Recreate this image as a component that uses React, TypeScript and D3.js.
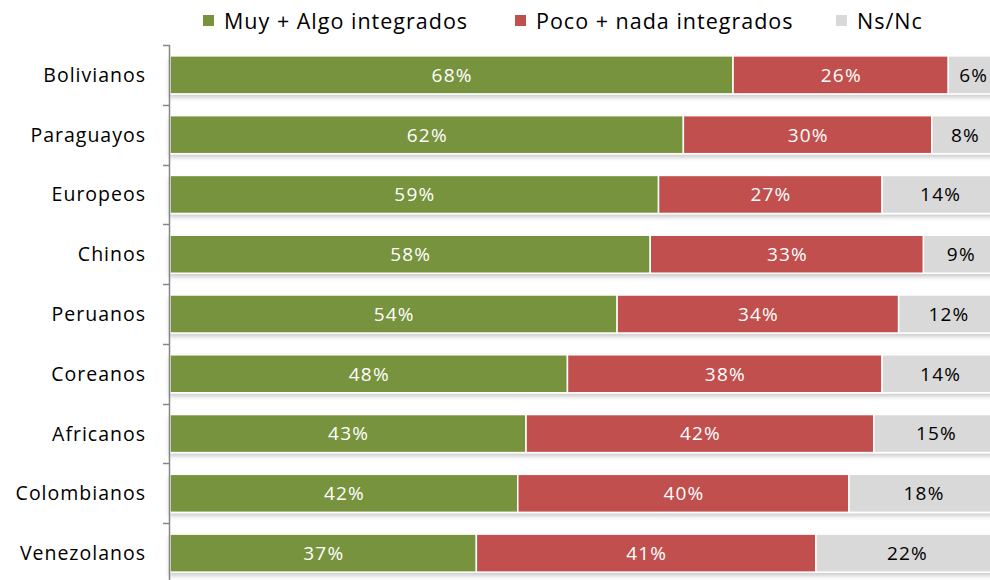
import React, { useEffect, useRef } from "react";
import * as d3 from "d3";

const categories = [
  "Bolivianos",
  "Paraguayos",
  "Europeos",
  "Chinos",
  "Peruanos",
  "Coreanos",
  "Africanos",
  "Colombianos",
  "Venezolanos",
];
const integrados = [68, 62, 59, 58, 54, 48, 43, 42, 37];
const noIntegrados = [26, 30, 27, 33, 34, 38, 42, 40, 41];
const nsnc = [6, 8, 14, 9, 12, 14, 15, 18, 22];

const seriesNames = ["Muy + Algo integrados", "Poco + nada integrados", "Ns/Nc"];
const colors = ["#77933C", "#C0504D", "#D9D9D9"];
const textColors = ["#ffffff", "#ffffff", "#000000"];

function App() {
  const ref = useRef<SVGSVGElement>(null);

  useEffect(() => {
    const svg = d3.select(ref.current);
    svg.selectAll("*").remove();

    const font = "'Open Sans', sans-serif";
    const rows = categories.map((c, i) => ({
      cat: c,
      vals: [integrados[i], noIntegrados[i], nsnc[i]],
    }));

    const x = d3.scaleLinear().domain([0, 100]).range([170, 998]);
    const y = d3
      .scaleBand()
      .domain(categories)
      .range([45, 583])
      .paddingInner(0.364)
      .paddingOuter(0.182);

    // soft shadow under the bars
    const defs = svg.append("defs");
    const f = defs
      .append("filter")
      .attr("id", "shadow")
      .attr("x", "-5%")
      .attr("y", "-20%")
      .attr("width", "110%")
      .attr("height", "160%");
    f.append("feDropShadow")
      .attr("dx", 0)
      .attr("dy", 3)
      .attr("stdDeviation", 2)
      .attr("flood-color", "#000")
      .attr("flood-opacity", 0.2);

    const g = svg.append("g");

    rows.forEach((r) => {
      let acc = 0;
      const row = g.append("g").attr("filter", "url(#shadow)");
      const tg = g.append("g");
      r.vals.forEach((v, k) => {
        const x0 = x(acc);
        const x1 = x(acc + v);
        row
          .append("rect")
          .attr("x", x0)
          .attr("y", y(r.cat)!)
          .attr("width", x1 - x0)
          .attr("height", y.bandwidth())
          .attr("fill", colors[k])
          .attr("stroke", "#fff")
          .attr("stroke-width", 1.5);
        tg.append("text")
          .attr("x", (x0 + x1) / 2 + 0.6)
          .attr("y", y(r.cat)! + y.bandwidth() / 2)
          .attr("dy", "0.36em")
          .attr("text-anchor", "middle")
          .attr("font-family", font)
          .attr("font-size", 19)
          .attr("letter-spacing", 1.2)
          .attr("fill", textColors[k])
          .text(v + "%");
        acc += v;
      });
    });

    // category axis
    const step = y.step();
    const ax = svg.append("g");
    ax.append("line")
      .attr("x1", 169.5)
      .attr("x2", 169.5)
      .attr("y1", 45)
      .attr("y2", 583)
      .attr("stroke", "#868686")
      .attr("stroke-width", 1.5);
    d3.range(categories.length + 1).forEach((i) => {
      const ty = Math.round(45 + i * step) + 0.5;
      ax.append("line")
        .attr("x1", 163)
        .attr("x2", 170)
        .attr("y1", ty)
        .attr("y2", ty)
        .attr("stroke", "#868686")
        .attr("stroke-width", 1.5);
    });
    ax.selectAll("text.cat")
      .data(categories)
      .enter()
      .append("text")
      .attr("class", "cat")
      .attr("x", 146)
      .attr("y", (d) => y(d)! + y.bandwidth() / 2)
      .attr("dy", "0.36em")
      .attr("text-anchor", "end")
      .attr("font-family", font)
      .attr("font-size", 19.5)
      .attr("letter-spacing", 1)
      .attr("fill", "#000")
      .text((d) => d);

    // legend
    const legendX = [203, 515, 836];
    const lg = svg.append("g");
    seriesNames.forEach((s, k) => {
      lg.append("rect")
        .attr("x", legendX[k])
        .attr("y", 15)
        .attr("width", 11)
        .attr("height", 11)
        .attr("fill", colors[k]);
      lg.append("text")
        .attr("x", legendX[k] + 21)
        .attr("y", 21)
        .attr("dy", "0.36em")
        .attr("font-family", font)
        .attr("font-size", 21.5)
        .attr("letter-spacing", 1)
        .attr("fill", "#000")
        .text(s);
    });
  }, []);

  return (
    <svg
      ref={ref}
      width={990}
      height={580}
      style={{ position: "absolute", left: 0, top: 0, background: "#fff" }}
    />
  );
}

export default App;
